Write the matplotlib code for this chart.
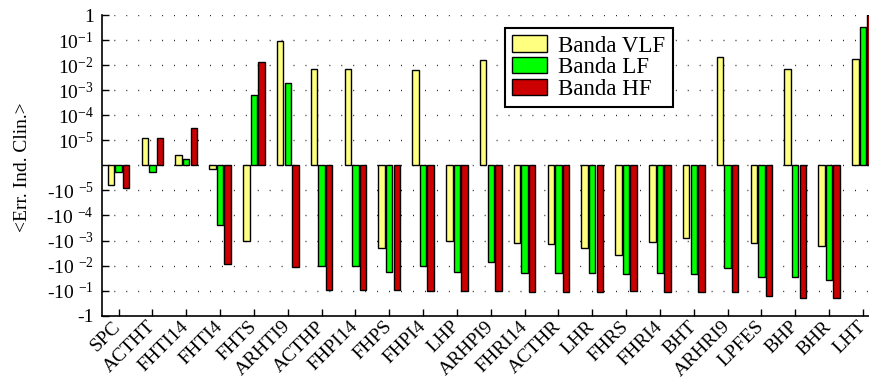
import numpy as np
import matplotlib
matplotlib.use("Agg")
import matplotlib.pyplot as plt

plt.rcParams['font.family'] = ['Liberation Serif', 'DejaVu Serif']
plt.rcParams['mathtext.fontset'] = 'custom'
plt.rcParams['mathtext.rm'] = 'Liberation Serif'
plt.rcParams['mathtext.it'] = 'Liberation Serif:italic'
plt.rcParams['mathtext.bf'] = 'Liberation Serif:bold'

categories = ["SPC", "ACTHT", "FHTI14", "FHTI4", "FHTS", "ARHTI9", "ACTHP", "FHPI14",
              "FHPS", "FHPI4", "LHP", "ARHPI9", "FHRI14", "ACTHR", "LHR", "FHRS",
              "FHRI4", "BHT", "ARHRI9", "LPFES", "BHP", "BHR", "LHT"]

vlf = [-6.3e-6, 1.26e-5, 2.5e-6, -1.35e-6, -1e-3, 0.093, 6.9e-3, 6.9e-3, -1.9e-3, 6.5e-3,
       -1e-3, 0.016, -1.3e-3, -1.4e-3, -1.9e-3, -3.9e-3, -1.1e-3, -8.3e-4, 0.021, -1.23e-3,
       6.9e-3, -1.7e-3, 0.0178]
lf = [-1.9e-6, -1.9e-6, 1.8e-6, -2.45e-4, 6.2e-4, 1.95e-3, -1e-2, -1e-2, -0.0186, -0.01,
      -0.0186, -7.1e-3, -0.019, -0.0195, -0.0195, -0.022, -0.019, -0.021, -0.0123, -0.028,
      -0.029, -0.038, 0.33]
hf = [-8.3e-6, 1.26e-5, 3.2e-5, -8.3e-3, 1.35e-2, -0.0115, -0.093, -0.093, -0.093, -0.1,
      -0.1, -0.1, -0.11, -0.11, -0.11, -0.107, -0.117, -0.117, -0.117, -0.158,
      -0.195, -0.2, 1.0]

series_names = ["Banda VLF", "Banda LF", "Banda HF"]
series_colors = ["#FFFF80", "#00FF00", "#CC0000"]

ytick_values = [1, 1e-1, 1e-2, 1e-3, 1e-4, 1e-5, 0, -1e-5, -1e-4, -1e-3, -1e-2, -1e-1, -1]
ytick_labels = ["1", "$10^{-1}$", "$10^{-2}$", "$10^{-3}$", "$10^{-4}$", "$10^{-5}$", "",
                "-10 $^{-5}$", "-10 $^{-4}$", "-10 $^{-3}$", "-10 $^{-2}$", "-10 $^{-1}$", "-1"]


def fwd(v):
    v = np.asarray(v, dtype=float)
    a = np.abs(v)
    with np.errstate(divide='ignore', invalid='ignore'):
        l = np.where(a > 0, np.log10(np.where(a > 0, a, 1.0)) + 6.0, 0.0)
    return np.sign(v) * np.maximum(l, 0.0)


def inv(y):
    y = np.asarray(y, dtype=float)
    return np.sign(y) * np.power(10.0, np.abs(y) - 6.0)


fig = plt.figure(figsize=(8.69, 3.83), dpi=100)
ax = fig.add_axes([102 / 869, 1 - 315.7 / 383, 767 / 869, 300.7 / 383])
ax.set_yscale('function', functions=(fwd, inv))

x = np.arange(len(categories))
width = 0.19
offsets = [-0.225, 0.0, 0.225]
for data, name, col, off in zip([vlf, lf, hf], series_names, series_colors, offsets):
    ax.bar(x + off, data, width, color=col, edgecolor='black', linewidth=1.0,
           label=name, zorder=3)

ax.set_ylim(-1, 1)
ax.set_xlim(-0.49, 22.18)
ax.set_yticks(ytick_values)
ax.set_yticklabels(ytick_labels)
ax.set_xticks(x)
ax.set_xticklabels(categories, rotation=45, ha='right', va='center',
                   rotation_mode='anchor')

ax.tick_params(axis='both', direction='in', length=5, width=1, labelsize=14)
ax.tick_params(axis='x', pad=6)
ax.tick_params(axis='y', pad=6)
ax.yaxis.grid(True, linestyle=(0, (0.6, 8)), color='black', linewidth=1.0, zorder=0)
ax.set_axisbelow(True)

for s in ['top', 'right']:
    ax.spines[s].set_visible(False)
for s in ['left', 'bottom']:
    ax.spines[s].set_linewidth(1.2)

ax.set_ylabel("<Err. Ind. Clin.>", fontsize=14)
ax.yaxis.set_label_coords(-0.092, 0.493)

leg = ax.legend(loc='upper left', bbox_to_anchor=(505 / 869, 1 - 28 / 383),
                bbox_transform=fig.transFigure, borderaxespad=0, fontsize=16.5,
                frameon=True, fancybox=False, handlelength=1.5, handleheight=0.72,
                labelspacing=0.02, borderpad=0.32, handletextpad=0.5)
leg.get_frame().set_edgecolor('black')
leg.get_frame().set_linewidth(1.5)
leg.get_frame().set_alpha(1)

fig.savefig("out.png", dpi=100)
